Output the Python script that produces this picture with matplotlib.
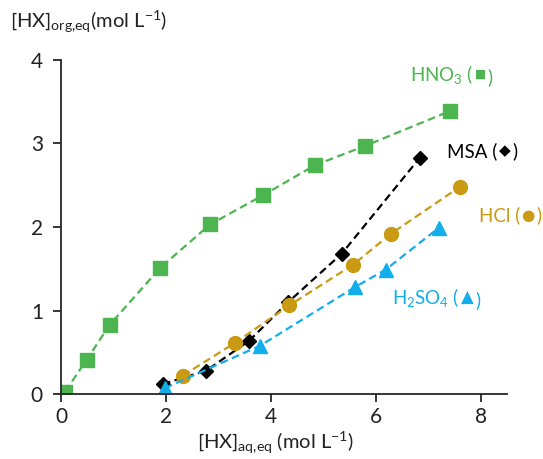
"""
Extraction isotherms: [HX]org,eq vs [HX]aq,eq for four acids.
"""

import matplotlib
matplotlib.use("Agg")
import matplotlib.pyplot as plt

plt.rcParams["font.family"] = ["Lato", "DejaVu Sans"]
plt.rcParams["mathtext.default"] = "regular"

# ------------------------------------------------------------
# Data
# ------------------------------------------------------------
hno3_x = [0.08, 0.49, 0.93, 1.89, 2.84, 3.85, 4.84, 5.79, 7.42]
hno3_y = [0.03, 0.41, 0.83, 1.51, 2.03, 2.38, 2.74, 2.97, 3.39]

msa_x = [1.94, 2.77, 3.59, 4.33, 5.35, 6.84]
msa_y = [0.12, 0.28, 0.64, 1.10, 1.68, 2.83]

hcl_x = [2.32, 3.31, 4.35, 5.57, 6.29, 7.60]
hcl_y = [0.22, 0.61, 1.06, 1.55, 1.92, 2.48]

h2so4_x = [1.98, 3.80, 5.60, 6.19, 7.20]
h2so4_y = [0.07, 0.58, 1.28, 1.49, 1.99]

GREEN = "#4CB54F"
BLACK = "#000000"
GOLD = "#C99A12"
BLUE = "#12AEEB"

# ------------------------------------------------------------
# Figure
# ------------------------------------------------------------
fig = plt.figure(figsize=(5.43, 4.59), dpi=100)
ax = fig.add_axes([0.1123, 0.1416, 0.8214, 0.7277])

dash = (0, (3.5, 2))
ax.plot(hno3_x, hno3_y, ls=dash, lw=1.6, color=GREEN, marker="s", ms=9.5,
        mec=GREEN, mfc=GREEN)
ax.plot(msa_x, msa_y, ls=dash, lw=1.6, color=BLACK, marker="D", ms=7,
        mec=BLACK, mfc=BLACK)
ax.plot(hcl_x, hcl_y, ls=dash, lw=1.6, color=GOLD, marker="o", ms=10,
        mec=GOLD, mfc=GOLD)
ax.plot(h2so4_x, h2so4_y, ls=dash, lw=1.6, color=BLUE, marker="^", ms=10,
        mec=BLUE, mfc=BLUE)

ax.set_xlim(0, 8.5)
ax.set_ylim(0, 4)
ax.set_xticks([0, 2, 4, 6, 8])
ax.set_yticks([0, 1, 2, 3, 4])

for side in ["top", "right"]:
    ax.spines[side].set_visible(False)
for side in ["left", "bottom"]:
    ax.spines[side].set_linewidth(1.3)
    ax.spines[side].set_color("#262626")

ax.tick_params(axis="both", direction="out", length=6, width=1.3,
               color="#262626", labelsize=15, labelcolor="#222222")
ax.tick_params(axis="x", pad=3)
ax.tick_params(axis="y", pad=7)

# axis titles
fig.text(10 / 543, 1 - 22 / 459, r"[HX]$_{org{,}eq}$(mol L$^{-1}$)",
         fontsize=14.5, color="#222222", ha="left", va="center")
fig.text(275 / 543, 1 - 443 / 459, r"[HX]$_{aq{,}eq}$ (mol L$^{-1}$)",
         fontsize=14.5, color="#222222", ha="center", va="center")


# ------------------------------------------------------------
# Series labels: name, then "(", marker glyph, ")"
# ------------------------------------------------------------
def series_label(x_px, y_px, name, glyph, gsize, color, size=13.5):
    t = fig.text(x_px / 543, 1 - y_px / 459, name + " (", fontsize=size,
                 color=color, ha="left", va="baseline")
    # glyph centred on the opening bracket's height
    g = ax.annotate(glyph, xy=(1, 0.5), xycoords=t, xytext=(1, 0),
                    textcoords="offset points", ha="left", va="center",
                    fontsize=gsize, color=color, family=["DejaVu Sans"],
                    annotation_clip=False)
    # closing bracket: x from glyph, baseline from the name text
    ax.annotate(")", xy=(1, 0), xycoords=(g, t), xytext=(1, 0),
                textcoords="offset points", ha="left", va="bottom",
                fontsize=size, color=color, annotation_clip=False)


series_label(410, 81, r"HNO$_3$", "■", 8.5, GREEN)
series_label(447, 157, "MSA", "◆", 11, BLACK)
series_label(479, 221, "HCl", "●", 11, GOLD)
series_label(392, 304, r"H$_2$SO$_4$", "▲", 12, BLUE)

fig.savefig("out.png", dpi=100)
